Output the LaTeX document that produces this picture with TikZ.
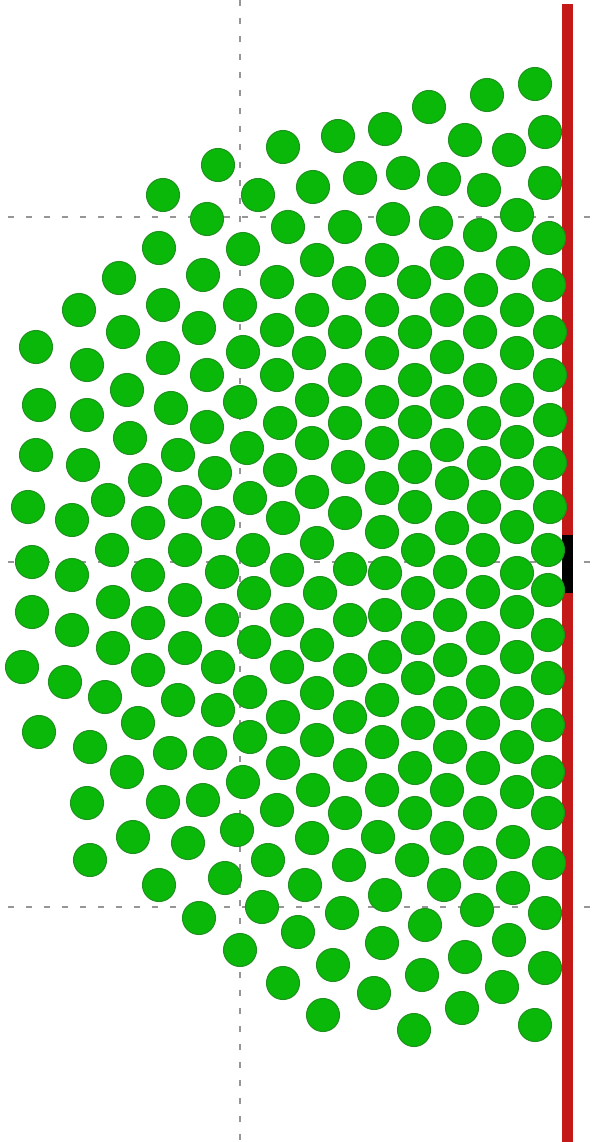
\documentclass[tikz,border=0pt]{standalone}
\usepackage{xcolor}
\usepackage{tikz}
\usetikzlibrary{positioning}

\definecolor{dotfill}{RGB}{10,184,10}
\definecolor{dotedge}{RGB}{30,145,30}
\definecolor{wallred}{RGB}{195,25,25}
\definecolor{guidegray}{RGB}{150,150,150}

\begin{document}
\begin{tikzpicture}[
    x=0.1mm, y=-0.1mm,
    particle/.style={circle, fill=dotfill, draw=dotedge, line width=0.3pt, inner sep=0pt, minimum size=3.3mm},
    guide/.style={draw=guidegray, line width=0.75pt, dash pattern=on 0.6mm off 1.2mm},
    wall/.style={fill=wallred},
    gate/.style={fill=black}
]
\useasboundingbox (0,0) rectangle (598,1142);

% Guide lines
\draw[guide] (240,0) -- (240,1142);
\draw[guide] (8,217) -- (598,217);
\draw[guide] (8,562) -- (598,562);
\draw[guide] (8,907) -- (598,907);

% Wall and opening
\fill[wall] (562,4) rectangle (573,1142);
\fill[gate] (562,535) rectangle (573,593);

% Particles - top part
\foreach \px/\py [count=\i] in {
    535/84, 487/95, 429/107, 545/132, 385/129, 338/136, 465/140, 509/150, 283/147, 218/165,
    163/195, 258/195, 313/187, 360/178, 403/173, 444/179, 484/190, 545/183,
    207/219, 288/227, 345/227, 393/219, 436/223, 480/235, 517/215, 549/238,
    159/248, 243/249, 317/260, 382/260, 447/263, 513/263,
    119/278, 203/275, 277/282, 349/283, 414/282, 481/290, 549/285,
    79/310, 163/305, 240/305, 312/310, 382/310, 447/310, 517/310}
    \node[particle] (a\i) at (\px,\py) {};

% Particles - upper middle
\foreach \px/\py [count=\i] in {
    36/347, 87/365, 123/332, 163/358, 199/328, 243/352, 277/330, 207/375, 277/375, 127/390,
    39/405, 87/415, 171/408, 240/402, 207/427, 280/423, 130/438, 36/455, 83/465, 178/455,
    247/448, 215/473, 280/470, 145/480, 28/507, 108/500, 185/502, 250/498, 72/520, 148/523,
    218/523, 283/518, 112/550, 185/550, 253/550, 32/562,
    345/332, 415/332, 480/332, 550/332, 309/353, 382/353, 447/357, 517/353,
    345/380, 415/380, 480/380, 550/375, 312/400, 382/402, 447/402, 517/400,
    345/423, 415/422, 484/423, 550/420, 312/443, 382/443, 447/445, 517/442,
    348/467, 415/467, 484/463, 550/463, 312/492, 382/488, 452/483, 517/483,
    345/513, 415/507, 484/507, 550/507, 317/543, 382/532, 452/528, 517/527,
    418/550, 483/550, 548/550}
    \node[particle] (b\i) at (\px,\py) {};

% Particles - lower middle
\foreach \px/\py [count=\i] in {
    72/575, 148/575, 222/572, 287/570, 32/612, 113/602, 185/600, 254/593,
    72/630, 148/623, 222/620, 287/620, 113/648, 185/648, 254/642,
    22/667, 148/670, 218/667, 287/667, 65/682, 105/697, 178/700, 250/692,
    218/710, 283/717, 39/732, 138/723, 250/737, 90/747, 170/753, 210/753, 283/763,
    127/772, 243/782, 87/803, 163/802, 203/800, 277/810,
    350/569, 385/573, 450/572, 517/573, 320/593, 418/593, 483/592, 548/590,
    350/620, 385/615, 450/615, 517/612, 317/645, 418/638, 483/638, 548/635,
    350/670, 385/657, 450/660, 517/657, 317/693, 418/678, 483/682, 548/678,
    382/700, 450/703, 517/703, 350/717, 418/723, 483/723, 548/725,
    317/740, 382/742, 450/747, 517/747, 350/765, 415/768, 483/768, 548/772,
    313/790, 382/790, 447/790, 517/792, 345/813, 415/813, 480/813, 548/813}
    \node[particle] (c\i) at (\px,\py) {};

% Particles - bottom part
\foreach \px/\py [count=\i] in {
    133/837, 188/843, 237/830, 90/860, 268/860, 159/885, 225/878, 262/907, 199/918, 240/950,
    283/983,
    312/838, 378/837, 447/838, 513/842, 349/865, 412/860, 480/863, 549/863,
    305/885, 385/895, 444/885, 513/888, 342/913, 425/925, 477/910, 545/913,
    298/932, 382/943, 509/940, 465/957, 333/965, 422/975, 545/968, 502/987,
    374/993, 462/1008, 323/1015, 414/1030, 535/1025}
    \node[particle] (d\i) at (\px,\py) {};

\end{tikzpicture}
\end{document}
